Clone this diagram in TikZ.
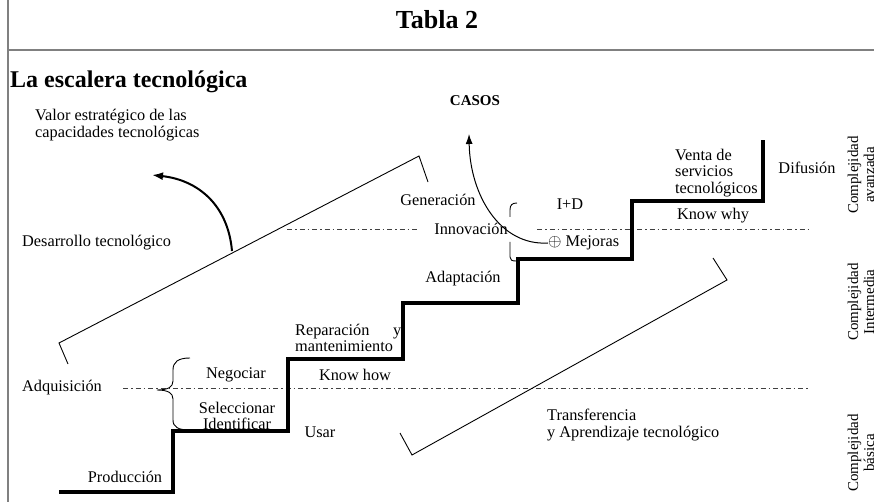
\documentclass[tikz,border=0pt]{standalone}
\usepackage{fontspec}
\setmainfont{Liberation Serif}
\usetikzlibrary{positioning,arrows.meta}

\begin{document}
\begin{tikzpicture}[x=1pt,y=-1pt,
    txt/.style={inner sep=0pt, font=\fontsize{16.3}{16.5}\selectfont},
    nivel/.style={inner sep=0pt, rotate=90, align=center, font=\fontsize{15}{16}\selectfont},
    raya/.style={dash pattern=on 5pt off 3pt on 1.5pt off 3pt, line width=0.6pt, black!75},
    corchete/.style={line width=0.9pt},
    escalon/.style={line width=3.5pt, line join=miter},
    flecha/.style={line width=2pt, -{Latex[length=11pt,width=8pt]}}]
    \useasboundingbox (0,0) rectangle (874,502);
    % marco
    \draw[black!50, line width=1.2pt] (8,0) -- (8,502);
    \draw[black!50, line width=1.6pt] (8,50) -- (874,50);
    \node[inner sep=0pt, font=\bfseries\fontsize{26}{27}\selectfont] (titulo) at (437,20) {Tabla 2};
    \node[inner sep=0pt, anchor=west, font=\bfseries\fontsize{24}{25}\selectfont] (escalera) at (10,82) {La escalera tecnológica};
    \node[inner sep=0pt, font=\bfseries\fontsize{15}{16}\selectfont] (casos) at (475,101) {CASOS};
    % lineas de nivel
    \draw[raya] (287,229) -- (418,229);
    \draw[raya] (537,229) -- (810,229);
    \draw[raya] (123,388) -- (810,388);
    % escalera
    \draw[escalon] (59,492) -| (173,431) -| (288,359) -| (403,303) -| (518,259) -| (632,201) -| (763,140);
    % corchetes
    \draw[corchete] (68,364) -- (59,343) -- (419,156) -- (428,182);
    \draw[corchete] (400,433) -- (412,455) -- (727,280) -- (713,258);
    \draw[corchete] (190,358) .. controls (178,358) and (173,362) .. (173,370) -- (173,381)
        .. controls (173,387) and (168,390) .. (157,390)
        .. controls (168,390) and (173,393) .. (173,399) -- (173,420)
        .. controls (173,427) and (178,430) .. (190,430);
    \draw[corchete] (517,203) .. controls (512,203) and (510,205) .. (510,210) -- (510,217);
    \draw[corchete] (510,242) -- (510,257) .. controls (510,260) and (512,261) .. (516,261);
    % textos
    \node[txt, anchor=west, align=left] (valor) at (35,125) {Valor estratégico de las\\capacidades tecnológicas};
    \node[txt, anchor=west] (desarrollo) at (22,243) {Desarrollo tecnológico};
    \node[txt, anchor=west] (adquisicion) at (22,388) {Adquisición};
    \node[txt] (negociar) at (236,375) {Negociar};
    \node[txt, align=center] (seleccionar) at (237,416) {Seleccionar\\Identificar};
    \node[txt] (produccion) at (125,477) {Producción};
    \node[txt] (usar) at (320,432) {Usar};
    \node[txt] (knowhow) at (355,375) {Know how};
    \node[txt, anchor=west, text width=106pt] (reparacion) at (295,338) {Reparación\hfill y\\mantenimiento};
    \node[txt] (adaptacion) at (463,279) {Adaptación};
    \node[txt] (generacion) at (438,200) {Generación};
    \node[txt] (innovacion) at (471,229) {Innovación};
    \node[txt] (imasd) at (570,204) {I+D};
    \node[txt, anchor=west] (mejoras) at (548,243) {$\oplus$ Mejoras};
    \node[txt, anchor=west, align=left] (venta) at (675,173) {Venta de\\servicios\\tecnológicos};
    \node[txt] (knowwhy) at (713,216) {Know why};
    \node[txt] (difusion) at (807,168) {Difusión};
    \node[txt, anchor=west, align=left] (transferencia) at (547,425) {Transferencia\\y Aprendizaje tecnológico};
    \node[nivel] (avanzada) at (861,175) {Complejidad\\avanzada};
    \node[nivel] (intermedia) at (861,302) {Complejidad\\Intermedia};
    \node[nivel] (basica) at (861,453) {Complejidad\\básica};
    % flechas
    \coordinate (pie) at (232,251);
    \coordinate (punta) at (152,175);
    \coordinate (punta casos) at (469,134);
    \draw[flecha] (pie) .. controls (228,205) and (198,180) .. (punta);
    \draw[line width=1pt, -{Latex[length=10pt,width=7pt]}] (mejoras.west) .. controls (500,246) and (470,195) .. (punta casos);
\end{tikzpicture}
\end{document}
